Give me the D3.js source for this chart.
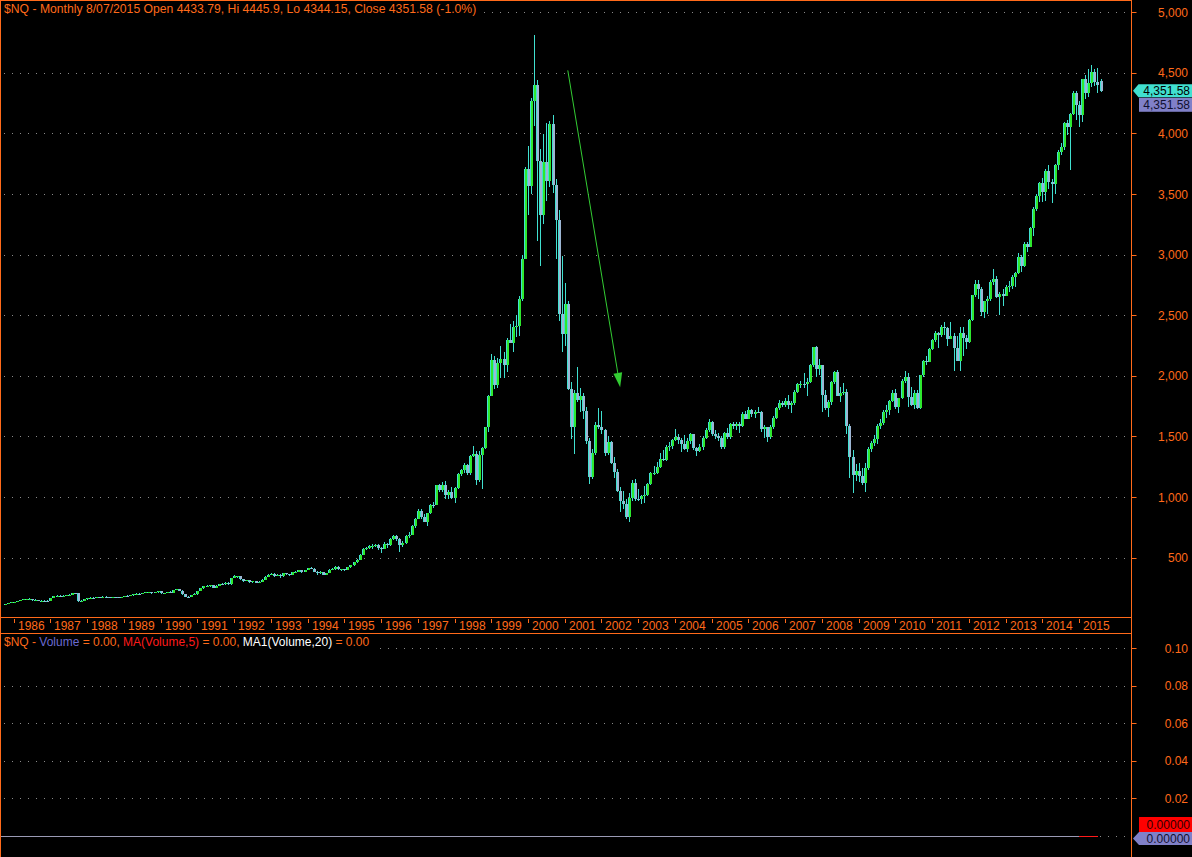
<!DOCTYPE html>
<html><head><meta charset="utf-8">
<script src="https://cdn.jsdelivr.net/npm/d3@7"></script>
<style>
html,body{margin:0;padding:0;background:#000;overflow:hidden;}
svg{display:block;}
text{font-family:"Liberation Sans",Arial,sans-serif;}
</style></head><body>
<svg id="c" width="1192" height="857"></svg>
<script>
// ---------------- DATA ----------------
const startYear = 1985, startMonth = 9; // first bar: Oct 1985 (monthly bars)
const opens = [
 112,116,126,
 132,134,144,150,156,160,161,149,152,141,146,145,
 142,166,183,186,184,186,188,195,208,204,142,143,
 157,163,170,168,172,170,178,174,169,173,171,167,
 177,186,184,188,196,203,197,207,214,216,210,214,
 222,205,209,217,212,234,237,228,199,179,176,191,
 201,226,248,262,262,270,252,268,283,282,290,283,
 331,345,345,321,310,312,295,305,290,302,318,343,
 360,367,348,360,345,370,367,358,378,385,394,385,
 398,415,410,384,380,381,360,372,400,404,423,403,
 404,397,420,436,460,480,525,570,578,592,595,600,
 576,575,610,600,655,680,652,600,620,680,690,760,
 821,885,835,797,867,938,937,1095,1055,1097,1019,1038,
 991,1071,1189,1221,1266,1199,1337,1357,1141,1345,1406,1575,
 1836,2128,1924,2106,2136,2091,2296,2271,2406,2407,2637,2967,
 3708,3570,4266,4397,3774,3325,3764,3610,4078,3571,3282,2507,
 2342,2594,1890,1574,1855,1800,1831,1710,1462,1169,1364,1596,
 1577,1550,1359,1452,1277,1208,1051,963,942,832,989,1116,
 984,982,1009,1018,1106,1197,1201,1250,1315,1303,1416,1424,
 1468,1493,1470,1438,1396,1466,1517,1401,1380,1412,1485,1553,
 1621,1519,1502,1483,1411,1530,1493,1605,1585,1601,1584,1686,
 1645,1719,1683,1703,1700,1565,1575,1491,1575,1655,1737,1778,
 1757,1790,1755,1772,1868,1932,1935,1930,1951,2092,2239,2056,
 2085,1842,1731,1781,1948,2030,1837,1860,1869,1588,1329,1180,
 1212,1175,1113,1237,1398,1442,1477,1589,1614,1704,1719,1794,
 1860,1741,1815,1957,1990,1825,1762,1856,1737,2007,2125,2117,
 2218,2293,2355,2337,2402,2397,2302,2329,2231,2124,2352,2309,
 2278,2458,2664,2755,2713,2525,2616,2632,2773,2800,2652,2676,
 2661,2732,2739,2819,2851,2982,2910,3085,3065,3219,3379,3487,
 3592,3519,3688,3596,3580,3736,3850,3887,4082,4050,4159,4335,
 4236,4148,4446,4334,4415,4509,4420,4433.79
];
const highs = [
 118,127,134,
 136,145,152,158,162,164,162,156,154,148,149,147,
 168,185,190,188,189,190,197,212,211,206,149,159,
 166,172,176,175,174,180,180,176,175,177,172,178,
 187,189,190,197,205,205,209,216,219,220,216,224,
 224,211,220,222,236,240,243,229,201,185,193,204,
 228,250,265,272,272,272,270,285,290,295,296,334,
 355,352,347,326,318,314,308,307,306,320,345,362,
 372,370,365,362,372,374,368,380,388,400,398,400,
 418,420,412,390,386,384,375,402,412,428,428,410,
 410,425,440,462,485,530,580,590,605,612,612,612,
 590,625,622,660,690,690,660,635,685,710,765,830,
 900,900,860,870,945,960,1100,1110,1120,1130,1060,1080,
 1080,1195,1230,1280,1270,1345,1420,1380,1380,1410,1580,1840,
 2180,2160,2150,2250,2200,2310,2430,2450,2500,2660,3000,3720,
 3900,4295,4816,4444,3869,3993,4089,4100,4149,3620,3366,2989,
 2769,2620,1950,1880,2070,1900,1860,1740,1490,1400,1620,1732,
 1710,1560,1500,1460,1330,1230,1080,1050,980,1030,1140,1145,
 1070,1015,1090,1115,1210,1255,1285,1360,1390,1430,1450,1480,
 1560,1520,1490,1510,1490,1530,1520,1410,1440,1500,1570,1640,
 1625,1550,1530,1500,1540,1570,1610,1620,1620,1620,1700,1710,
 1740,1730,1720,1745,1710,1590,1580,1590,1665,1745,1800,1790,
 1820,1840,1790,1880,1940,1960,2020,1980,2095,2240,2245,2142,
 2090,1880,1800,1960,2040,2050,1910,1940,1890,1600,1390,1270,
 1280,1240,1280,1410,1460,1510,1600,1640,1720,1760,1800,1880,
 1890,1820,1970,2040,2020,1910,1880,1880,2010,2130,2160,2230,
 2300,2370,2360,2420,2440,2400,2440,2350,2330,2400,2400,2340,
 2470,2670,2790,2790,2730,2620,2660,2790,2880,2820,2690,2720,
 2750,2780,2830,2860,3010,3000,3100,3100,3230,3390,3500,3600,
 3630,3710,3740,3620,3745,3860,3920,4090,4110,4170,4350,4350,
 4270,4450,4480,4530,4562,4535,4540,4445.9
];
const lows = [
 108,115,125,
 129,133,142,147,151,155,146,147,139,139,141,139,
 142,165,180,176,180,183,187,194,198,130,136,138,
 152,161,166,165,165,169,170,166,168,168,164,166,
 176,181,182,187,195,194,196,205,210,200,207,212,
 200,201,207,208,211,230,222,195,176,168,175,188,
 195,224,242,258,255,250,251,262,278,278,278,275,
 328,335,318,300,305,290,290,288,288,296,316,340,
 355,338,345,335,344,358,350,357,372,380,375,382,
 395,402,378,360,368,355,356,370,396,398,396,392,
 390,396,414,430,455,478,520,560,572,570,585,565,
 540,570,580,595,645,640,545,590,615,665,685,745,
 815,820,790,760,860,910,930,1040,1040,980,985,980,
 950,1068,1170,1200,1180,1185,1330,1100,1120,1065,1395,1540,
 1830,1890,1900,1980,1980,2030,2270,2200,2320,2330,2620,2960,
 3327,3500,4060,3112,2906,3250,3442,3560,3511,2961,2450,2200,
 2250,1880,1480,1352,1780,1700,1640,1440,1105,1150,1350,1560,
 1520,1340,1350,1270,1160,1040,876,900,820,795,970,970,
 970,940,950,1010,1100,1180,1190,1240,1300,1300,1380,1400,
 1460,1440,1370,1390,1370,1440,1390,1340,1370,1390,1480,1540,
 1500,1480,1460,1400,1400,1480,1480,1560,1550,1530,1580,1640,
 1640,1660,1650,1690,1540,1490,1450,1480,1560,1640,1720,1740,
 1740,1730,1690,1760,1860,1900,1900,1830,1940,2070,1990,2010,
 1700,1720,1660,1760,1930,1830,1780,1840,1520,1160,1030,1130,
 1120,1100,1043,1220,1370,1420,1440,1560,1590,1650,1680,1780,
 1730,1690,1810,1940,1740,1750,1730,1730,1730,1990,2090,2110,
 2210,2280,2230,2320,2340,2250,2300,2040,2120,2040,2160,2220,
 2270,2450,2650,2630,2490,2480,2510,2620,2750,2640,2500,2580,
 2660,2690,2720,2730,2840,2860,2900,3020,3060,3150,3360,3430,
 3434,3440,3540,3423,3500,3700,3820,3860,3990,3700,4150,4108,
 4055,4090,4287,4300,4380,4390,4330,4344.15
];
const closes = [
 116,126,132,
 134,144,150,156,160,161,149,152,141,146,145,142,
 166,183,186,184,186,188,195,208,204,142,143,157,
 163,170,168,172,170,178,174,169,173,171,167,177,
 186,184,188,196,203,197,207,214,216,210,214,222,
 205,209,217,212,234,237,228,199,179,176,191,201,
 226,248,262,262,270,252,268,283,282,290,283,331,
 345,345,321,310,312,295,305,290,302,318,343,360,
 367,348,360,345,370,367,358,378,385,394,385,398,
 415,410,384,380,381,360,372,400,404,423,403,404,
 397,420,436,460,480,525,570,578,592,595,600,576,
 575,610,600,655,680,652,600,620,680,690,760,821,
 885,835,797,867,938,937,1095,1055,1097,1019,1038,991,
 1071,1189,1221,1266,1199,1337,1357,1141,1345,1406,1575,1836,
 2128,1924,2106,2136,2091,2296,2271,2406,2407,2637,2967,3708,
 3570,4266,4397,3774,3325,3764,3610,4078,3571,3282,2507,2342,
 2594,1890,1574,1855,1800,1831,1710,1462,1169,1364,1596,1577,
 1550,1359,1452,1277,1208,1051,963,942,832,989,1116,984,
 982,1009,1018,1106,1197,1201,1250,1315,1303,1416,1424,1468,
 1493,1470,1438,1396,1466,1517,1401,1380,1412,1485,1553,1621,
 1519,1502,1483,1411,1530,1493,1605,1585,1601,1584,1686,1645,
 1719,1683,1703,1700,1565,1575,1491,1575,1655,1737,1778,1757,
 1790,1755,1772,1868,1932,1935,1930,1951,2092,2239,2056,2085,
 1842,1731,1781,1948,2030,1837,1860,1869,1588,1329,1180,1212,
 1175,1113,1237,1398,1442,1477,1589,1614,1704,1719,1794,1860,
 1741,1815,1957,1990,1825,1762,1856,1737,2007,2125,2117,2218,
 2293,2355,2337,2402,2397,2302,2329,2231,2124,2352,2309,2278,
 2458,2664,2755,2713,2525,2616,2632,2773,2800,2652,2676,2661,
 2732,2739,2819,2851,2982,2910,3085,3065,3219,3379,3487,3592,
 3519,3688,3596,3580,3736,3850,3887,4082,4050,4159,4335,4236,
 4148,4446,4334,4415,4509,4420,4396,4351.58
];
const yearLabels = d3.range(1986, 2016).map(String);
const priceTicks = [500,1000,1500,2000,2500,3000,3500,4000,4500,5000];
const volumeTicks = [0.02,0.04,0.06,0.08,0.10];
const lastClose = 4351.58;
const lastVolume = 0;
const titleText = "$NQ - Monthly 8/07/2015 Open 4433.79, Hi 4445.9, Lo 4344.15, Close 4351.58 (-1.0%)";
const volumeLegend = [
  {t:"$NQ - ", c:"orange"}, {t:"Volume", c:"slate"}, {t:" = 0.00, ", c:"orange"},
  {t:"MA(Volume,5)", c:"red"}, {t:" = 0.00, ", c:"orange"},
  {t:"MA1(Volume,20)", c:"white"}, {t:" = 0.00", c:"orange"}
];
// trend arrow annotation, in (bar index, price) space
const arrowStart = [184, 4520];
const arrowEnd = [201.1, 1905];

// ---------------- STYLE / LAYOUT ----------------
const C = {
  orange:"#ff6a1a", text:"#ff6a1a", grid:"#8a8a8a", wick:"#40e0d0",
  up:"#2ee82e", down:"#9db6d4", slate:"#6a6ad0", red:"#ff1a1a", white:"#ffffff",
  arrow:"#33cc33", tagCyan:"#40e0d0", tagLav:"#8080c8", volBase:"#9a9ab4"
};
const W = 1192, H = 857;
const axisX = 1131.5;
const svg = d3.select("#c");
svg.append("rect").attr("width",W).attr("height",H).attr("fill","#000");

const n = closes.length;
const bars = d3.range(n).map(i => ({i, o:opens[i], h:highs[i], l:lows[i], c:closes[i]}));

const x = d3.scaleLinear().domain([0, n-1]).range([4.5, 1100.5]);
const y = d3.scaleLinear().domain([0, 5000]).range([618.2, 12.2]);
const yv = d3.scaleLinear().domain([0, 0.10]).range([835.5, 648]);

// grid (main)
const g = svg.append("g");
g.selectAll(".gm").data(priceTicks).join("line")
  .attr("x1",4).attr("x2",1128)
  .attr("y1",d=>Math.round(y(d))+0.5).attr("y2",d=>Math.round(y(d))+0.5)
  .attr("stroke",C.grid).attr("stroke-dasharray","1,7");
// grid (volume)
g.selectAll(".gv").data([0].concat(volumeTicks)).join("line")
  .attr("x1",4).attr("x2",1128)
  .attr("y1",d=>Math.round(yv(d))+0.5).attr("y2",d=>Math.round(yv(d))+0.5)
  .attr("stroke",C.grid).attr("stroke-dasharray","1,7");

// candles
const cg = svg.append("g").attr("shape-rendering","crispEdges");
cg.selectAll(".w").data(bars).join("rect")
  .attr("x",d=>Math.round(x(d.i)))
  .attr("y",d=>y(d.h))
  .attr("width",1)
  .attr("height",d=>Math.max(1, y(d.l)-y(d.h)))
  .attr("fill",C.wick);
cg.selectAll(".b").data(bars).join("rect")
  .attr("x",d=>Math.round(x(d.i))-1)
  .attr("y",d=>y(Math.max(d.o,d.c)))
  .attr("width",3)
  .attr("height",d=>Math.max(1, Math.abs(y(d.o)-y(d.c))))
  .attr("fill",d=>d.c>=d.o?C.up:C.down);
cg.selectAll(".bl").data(bars).join("rect")
  .attr("x",d=>Math.round(x(d.i))-1)
  .attr("y",d=>y(Math.max(d.o,d.c)))
  .attr("width",1)
  .attr("height",d=>Math.max(1, Math.abs(y(d.o)-y(d.c))))
  .attr("fill",C.wick);

// volume bars (all zero) form a baseline; MA overlay at the recent end
const vBase = Math.round(yv(lastVolume))+0.5;
svg.append("line").attr("x1",0).attr("x2",x(n-1)-3)
  .attr("y1",vBase).attr("y2",vBase).attr("stroke",C.volBase)
  .attr("shape-rendering","crispEdges");
svg.append("line").attr("x1",x(n-8)).attr("x2",x(n-1)-3)
  .attr("y1",vBase).attr("y2",vBase).attr("stroke",C.red)
  .attr("shape-rendering","crispEdges");

// arrow annotation
const ax1 = x(arrowStart[0]), ay1 = y(arrowStart[1]);
const ax2 = x(arrowEnd[0]), ay2 = y(arrowEnd[1]);
const len = Math.hypot(ax2-ax1, ay2-ay1), ux = (ax2-ax1)/len, uy = (ay2-ay1)/len;
const hl = 14.5, hw = 4.4;
const bx = ax2 - ux*hl, by = ay2 - uy*hl;
svg.append("line").attr("x1",ax1).attr("y1",ay1).attr("x2",bx).attr("y2",by)
  .attr("stroke",C.arrow).attr("stroke-width",1);
svg.append("path")
  .attr("d",`M${ax2},${ay2}L${bx-uy*hw},${by+ux*hw}L${bx+uy*hw},${by-ux*hw}Z`)
  .attr("fill",C.arrow);

// frame lines
const fr = svg.append("g").attr("stroke",C.orange).attr("shape-rendering","crispEdges");
fr.append("line").attr("x1",0.5).attr("x2",0.5).attr("y1",0).attr("y2",H);
fr.append("line").attr("x1",0).attr("x2",axisX).attr("y1",0.5).attr("y2",0.5);
fr.append("line").attr("x1",axisX).attr("x2",axisX).attr("y1",0).attr("y2",H);
fr.append("line").attr("x1",0).attr("x2",axisX).attr("y1",617.5).attr("y2",617.5);
fr.append("line").attr("x1",0).attr("x2",axisX).attr("y1",633.5).attr("y2",633.5);

// price axis
const pa = svg.append("g");
pa.selectAll("line").data(priceTicks).join("line")
  .attr("x1",axisX).attr("x2",axisX+5)
  .attr("y1",d=>Math.round(y(d))+0.5).attr("y2",d=>Math.round(y(d))+0.5)
  .attr("stroke",C.orange);
pa.selectAll("text").data(priceTicks).join("text")
  .attr("x",1188).attr("y",d=>y(d)+4.5).attr("text-anchor","end")
  .attr("font-size",12).attr("fill",C.text).text(d=>d3.format(",")(d));

// volume axis
const va = svg.append("g");
va.selectAll("line").data(volumeTicks).join("line")
  .attr("x1",axisX).attr("x2",axisX+5)
  .attr("y1",d=>Math.round(yv(d))+0.5).attr("y2",d=>Math.round(yv(d))+0.5)
  .attr("stroke",C.orange);
va.selectAll("text").data(volumeTicks).join("text")
  .attr("x",1188).attr("y",d=>yv(d)+4.5).attr("text-anchor","end")
  .attr("font-size",12).attr("fill",C.text).text(d=>d3.format(".2f")(d));

// year axis
const yrIdx = yearLabels.map((s,k)=>({s, i:(+s - startYear)*12 - startMonth}));
const ya = svg.append("g");
ya.selectAll("line").data(yrIdx).join("line")
  .attr("x1",d=>Math.round(x(d.i))+0.5).attr("x2",d=>Math.round(x(d.i))+0.5)
  .attr("y1",619).attr("y2",623).attr("stroke",C.orange);
ya.selectAll("text").data(yrIdx).join("text")
  .attr("x",d=>Math.round(x(d.i))+4).attr("y",630)
  .attr("font-size",12).attr("fill",C.text).text(d=>d.s);

// title with black backing
const tRect = svg.append("rect").attr("x",2).attr("y",2).attr("height",14).attr("fill","#000");
const tt = svg.append("text").attr("x",4).attr("y",13).attr("font-size",12.2)
  .attr("fill",C.text).text(titleText);
tRect.attr("width", tt.node().getComputedTextLength()+6);

// volume legend
const vRect = svg.append("rect").attr("x",2).attr("y",635).attr("height",14).attr("fill","#000");
const vt = svg.append("text").attr("x",4).attr("y",645.5).attr("font-size",12);
vt.selectAll("tspan").data(volumeLegend).join("tspan").text(d=>d.t)
  .attr("fill",d=>({orange:C.text, slate:C.slate, red:C.red, white:C.white})[d.c]);
vRect.attr("width", vt.node().getComputedTextLength()+6);

// price tags
const py = y(lastClose);
svg.append("path")
  .attr("d",`M1133,${py}L1138.5,${py-6.5}L1192,${py-6.5}L1192,${py+6.5}L1138.5,${py+6.5}Z`)
  .attr("fill",C.tagCyan);
svg.append("text").attr("x",1190).attr("y",py+4.3).attr("text-anchor","end")
  .attr("font-size",12).attr("fill","#000").text(d3.format(",.2f")(lastClose));
svg.append("rect").attr("x",1139).attr("y",py+7).attr("width",53).attr("height",14).attr("fill",C.tagLav);
svg.append("text").attr("x",1190).attr("y",py+18).attr("text-anchor","end")
  .attr("font-size",12).attr("fill","#101030").text(d3.format(",.2f")(lastClose));

// volume tags
const vy = yv(lastVolume);
svg.append("rect").attr("x",1139).attr("y",vy-18.5).attr("width",53).attr("height",15).attr("fill","#ff0000");
svg.append("text").attr("x",1190).attr("y",vy-6.5).attr("text-anchor","end")
  .attr("font-size",12).attr("fill","#300000").text(d3.format(".5f")(lastVolume));
svg.append("path")
  .attr("d",`M1133,${vy+3}L1139,${vy-3.5}L1192,${vy-3.5}L1192,${vy+9.5}L1139,${vy+9.5}Z`)
  .attr("fill",C.tagLav);
svg.append("text").attr("x",1190).attr("y",vy+7.5).attr("text-anchor","end")
  .attr("font-size",12).attr("fill","#101030").text(d3.format(".5f")(lastVolume));
</script></body></html>
